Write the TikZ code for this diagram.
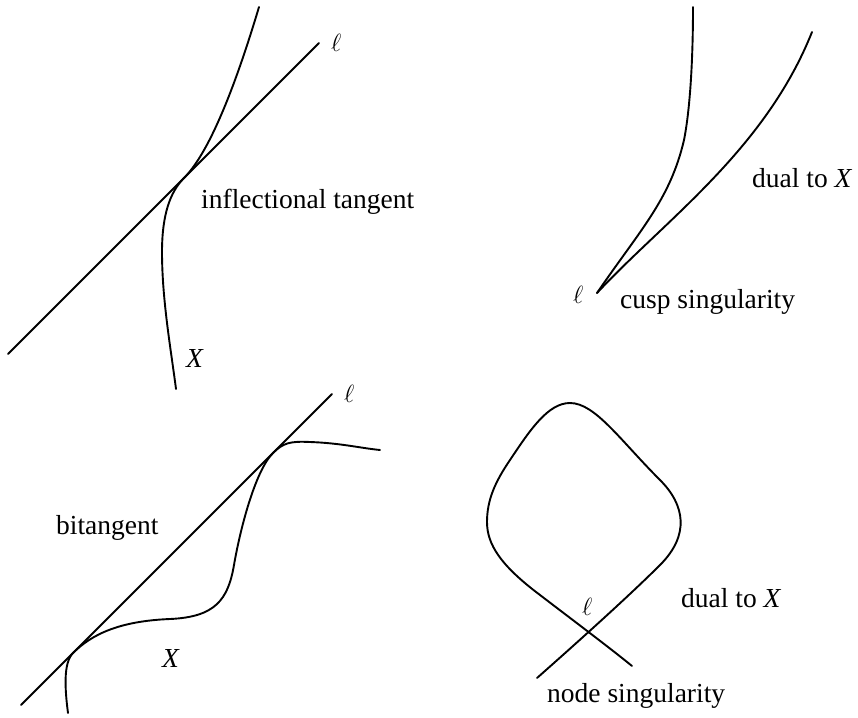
\documentclass[tikz,border=0pt]{standalone}
\usepackage{fontspec}
\setmainfont{Liberation Serif}
\begin{document}
\begin{tikzpicture}[x=1pt,y=-1pt,
  curve/.style={line width=1.9pt, line cap=round},
  lbl/.style={font=\fontsize{27.5}{30}\selectfont, inner sep=0pt, anchor=base west},
  ell/.style={font=\fontsize{23}{26}\selectfont, inner sep=0pt, anchor=base west}]
\useasboundingbox (0,0) rectangle (858,717);
% ---------- top left: inflectional tangent ----------
\coordinate (l1a) at (8,354);
\coordinate (l1b) at (319,43);
\draw[curve] (l1a) -- (l1b);
\node[ell] (ell1) at (331,52) {$\ell$};
\draw[curve] (259,7) .. controls (244,57) and (215,147) .. (184,178)
  .. controls (170,192) and (162,215) .. (162,252)
  .. controls (162,300) and (171,350) .. (176,389);
\node[lbl] (infl) at (201,208) {inflectional tangent};
\node[lbl] (X1) at (186,367) {\textit{X}};
% ---------- top right: cusp ----------
\coordinate (cusp) at (597,293);
\draw[curve] (cusp) .. controls (640,230) and (670,200) .. (684,140)
  .. controls (690,110) and (693,60) .. (693,7);
\draw[curve] (cusp) .. controls (665,220) and (765,150) .. (812,32);
\node[ell] (ell2) at (573,303) {$\ell$};
\node[lbl] (dual1) at (752,187) {dual to \textit{X}};
\node[lbl] (cuspl) at (620,308) {cusp singularity};
% ---------- bottom left: bitangent ----------
\coordinate (l3a) at (21,705);
\coordinate (l3b) at (332,394);
\draw[curve] (l3a) -- (l3b);
\node[ell] (ell3) at (344,402) {$\ell$};
\draw[curve] (68,713) .. controls (65,690) and (63,663) .. (73,653)
  .. controls (92,634) and (120,621) .. (170,619)
  .. controls (215,617) and (228,600) .. (234,565)
  .. controls (240,530) and (255,471) .. (273,453)
  .. controls (283,443) and (290,441) .. (310,442)
  .. controls (340,443) and (360,448) .. (380,450);
\node[lbl] (bit) at (56,534) {bitangent};
\node[lbl] (X2) at (162,667) {\textit{X}};
% ---------- bottom right: node ----------
\draw[curve] (537,678) .. controls (580,640) and (630,595) .. (660,565)
  .. controls (690,535) and (685,505) .. (660,480)
  .. controls (620,440) and (595,403) .. (570,403)
  .. controls (548,403) and (530,430) .. (510,460)
  .. controls (495,482) and (487,500) .. (487,522)
  .. controls (487,544) and (500,565) .. (540,595)
  .. controls (570,618) and (610,648) .. (632,666);
\node[ell] (ell4) at (582,615) {$\ell$};
\node[lbl] (dual2) at (681,607) {dual to \textit{X}};
\node[lbl] (nodel) at (547,702) {node singularity};
\end{tikzpicture}
\end{document}
